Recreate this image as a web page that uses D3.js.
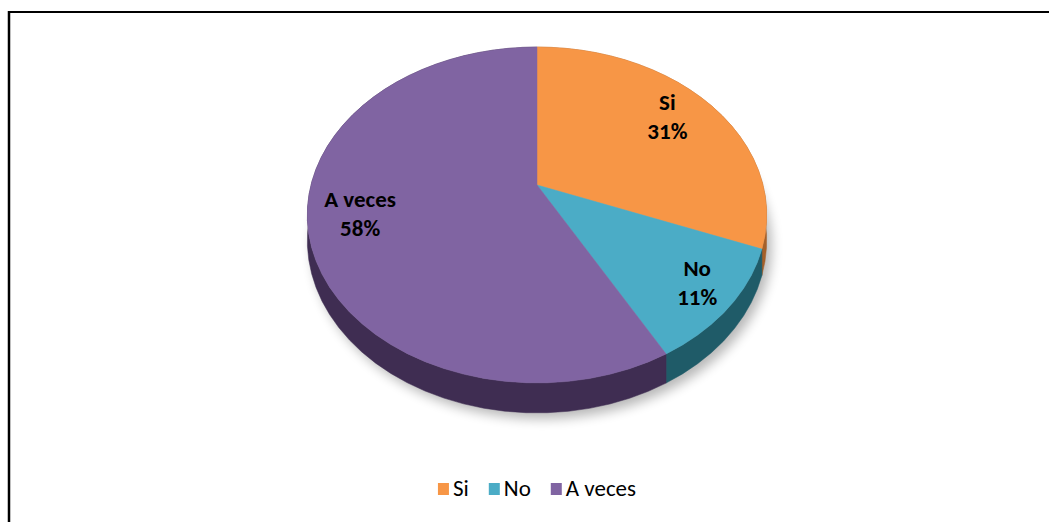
<!DOCTYPE html>
<html>
<head>
<meta charset="utf-8">
<script src="https://cdn.jsdelivr.net/npm/d3@7"></script>
<style>
  html, body { margin: 0; padding: 0; background: #fff; }
  svg { display: block; }
</style>
</head>
<body>
<div id="chart"></div>
<script>
const categories = ["Si", "No", "A veces"];
const values = [31, 11, 58];
const labels = ["31%", "11%", "58%"];
const topColors = ["#F79646", "#4BACC6", "#8064A2"];
const sideColors = ["#a5602a", "#1f5b68", "#3f2d52"];

const width = 1049, height = 522;
const font = "Carlito, Calibri, Lato, 'Open Sans', sans-serif";

// 3D projection of the pie disc (perspective tilt)
const cx = 537, cy = 185;
const A = 226, B = 162.6, K = 0.1786, H = 24.6;
const labelRadius = [0.75, 0.85, 0.78];

function proj(theta, r, depth) {
  const X = r * Math.sin(theta), Z = r * Math.cos(theta);
  const den = 1 + K * Z;
  return [cx + (A * X) / den, cy - (B * Z) / den + (depth * H) / den];
}

const svg = d3.select("#chart").append("svg")
  .attr("width", width)
  .attr("height", height);

const defs = svg.append("defs");
defs.append("filter")
  .attr("id", "shadow")
  .attr("x", "-20%").attr("y", "-20%")
  .attr("width", "140%").attr("height", "140%")
  .append("feGaussianBlur")
  .attr("stdDeviation", 6);

// frame (top and left lines only, the rest is cropped)
svg.append("line")
  .attr("x1", 8).attr("x2", width).attr("y1", 12).attr("y2", 12)
  .attr("stroke", "#000").attr("stroke-width", 2);
svg.append("line")
  .attr("x1", 9).attr("x2", 9).attr("y1", 11).attr("y2", height)
  .attr("stroke", "#000").attr("stroke-width", 2.5);

const slices = d3.pie().sort(null).value((d) => d)(values);
const line = d3.line();
const steps = 80;

function rimPoints(a0, a1, depth) {
  const n = Math.max(2, Math.ceil((steps * (a1 - a0)) / (2 * Math.PI)));
  return d3.range(n + 1).map((i) => proj(a0 + ((a1 - a0) * i) / n, 1, depth));
}

// soft shadow under the pie
const shadowPts = rimPoints(0, 2 * Math.PI, 1).map(([x, y]) => [x + 5, y + 6]);
svg.append("path")
  .attr("d", line(shadowPts) + "Z")
  .attr("fill", "#000")
  .attr("opacity", 0.28)
  .attr("filter", "url(#shadow)");

const pie = svg.append("g");

// side walls (only front half shows, the top face covers the rest)
slices.forEach((s, i) => {
  const top = rimPoints(s.startAngle, s.endAngle, 0);
  const bottom = rimPoints(s.startAngle, s.endAngle, 1).reverse();
  pie.append("path")
    .attr("d", line(top.concat(bottom)) + "Z")
    .attr("fill", sideColors[i])
    .attr("stroke", sideColors[i])
    .attr("stroke-width", 0.5);
});

// top faces
slices.forEach((s, i) => {
  const pts = [[cx, cy]].concat(rimPoints(s.startAngle, s.endAngle, 0));
  pie.append("path")
    .attr("d", line(pts) + "Z")
    .attr("fill", topColors[i])
    .attr("stroke", topColors[i])
    .attr("stroke-width", 0.5);
});

// data labels
slices.forEach((s, i) => {
  const mid = (s.startAngle + s.endAngle) / 2;
  const [x, y] = proj(mid, labelRadius[i], 0);
  const t = svg.append("text")
    .attr("text-anchor", "middle")
    .style("font-family", font)
    .style("font-size", "23px")
    .style("font-weight", "bold")
    .attr("fill", "#000");
  t.append("tspan").attr("x", x).attr("y", y - 11).text(categories[i]);
  t.append("tspan").attr("x", x).attr("y", y + 18).text(labels[i]);
});

// legend
const legend = svg.append("g");
let lx = 0;
categories.forEach((c, i) => {
  const g = legend.append("g").attr("transform", `translate(${lx},0)`);
  g.append("rect")
    .attr("x", 0).attr("y", -13)
    .attr("width", 11).attr("height", 12)
    .attr("fill", topColors[i]);
  const t = g.append("text")
    .attr("x", 15).attr("y", 0)
    .style("font-family", font)
    .style("font-size", "23px")
    .attr("fill", "#000")
    .text(c);
  lx += 15 + t.node().getComputedTextLength() + 20;
});
const lw = lx - 20;
legend.attr("transform", `translate(${cx - lw / 2},496)`);
</script>
</body>
</html>
